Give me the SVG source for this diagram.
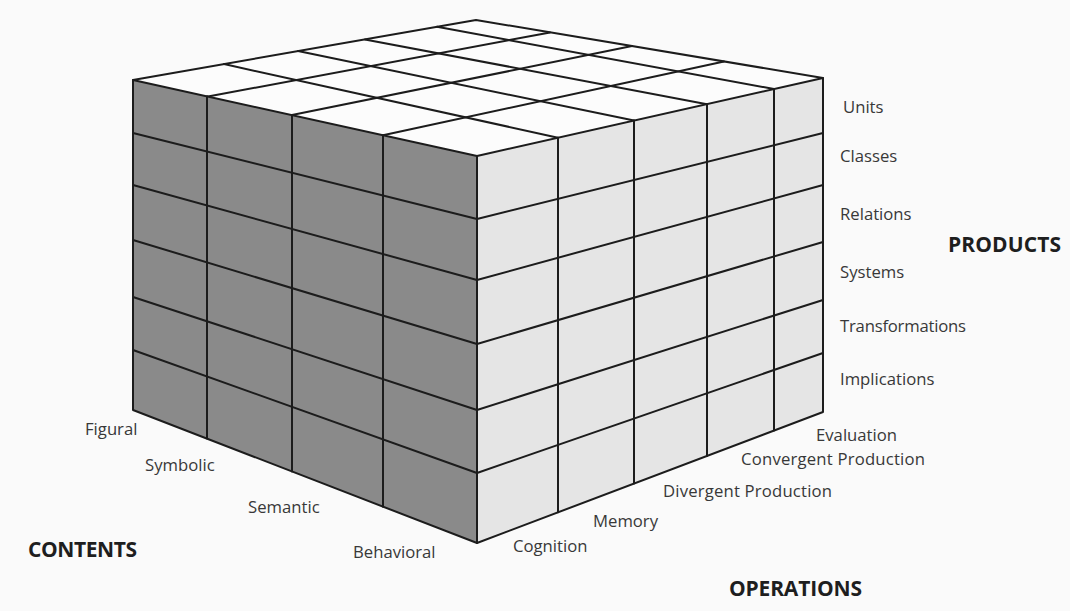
<svg xmlns="http://www.w3.org/2000/svg" width="1070" height="611" viewBox="0 0 1070 611">
  <style>
    .edge { stroke: #1c1c1c; stroke-width: 2; stroke-linejoin: round; stroke-linecap: round; fill: none; }
    .top { fill: #fcfcfc; }
    .left { fill: #8a8a8a; }
    .right { fill: #e5e5e5; }
    .lbl { font-family: "Open Sans", "Liberation Sans", sans-serif; font-size: 16.7px; fill: #383838; }
    .axis { font-family: "Open Sans", "Liberation Sans", sans-serif; font-size: 21px; font-weight: bold; fill: #1e1e1e; }
  </style>

  <rect width="1070" height="611" fill="#fafafa"/>

  <!-- Top face: operations x contents -->
  <g id="face-top">
    <polygon class="top" points="133,80 476,20 823,78 477,156"/>
    <g class="edge">
      <line x1="208" y1="96.6" x2="550" y2="32.4"/>
      <line x1="292" y1="115.1" x2="632" y2="46.1"/>
      <line x1="383" y1="135.2" x2="724" y2="61.5"/>
      <line x1="224" y1="64.1" x2="558" y2="137.7"/>
      <line x1="298" y1="51.1" x2="634" y2="120.6"/>
      <line x1="365" y1="39.4" x2="707" y2="104.2"/>
      <line x1="437" y1="26.8" x2="774" y2="89"/>
    </g>
  </g>

  <!-- Left face: contents x products -->
  <g id="face-contents">
    <polygon class="left" points="133,80 477,156 477,543 133,410"/>
    <g class="edge">
      <line x1="207" y1="96.3" x2="207" y2="438.6"/>
      <line x1="292" y1="115.1" x2="292" y2="471.5"/>
      <line x1="383" y1="135.2" x2="383" y2="506.7"/>
      <line x1="133" y1="133" x2="477" y2="219"/>
      <line x1="133" y1="185" x2="477" y2="280"/>
      <line x1="133" y1="240" x2="477" y2="344"/>
      <line x1="133" y1="297" x2="477" y2="410"/>
      <line x1="133" y1="350" x2="477" y2="473"/>
    </g>
  </g>

  <!-- Right face: operations x products -->
  <g id="face-operations">
    <polygon class="right" points="477,156 823,78 823,412 477,543"/>
    <g class="edge">
      <line x1="558" y1="137.7" x2="558" y2="512.3"/>
      <line x1="634" y1="120.6" x2="634" y2="483.6"/>
      <line x1="707" y1="104.2" x2="707" y2="455.9"/>
      <line x1="774" y1="89" x2="774" y2="430.6"/>
      <line x1="477" y1="219" x2="823" y2="133"/>
      <line x1="477" y1="280" x2="823" y2="185"/>
      <line x1="477" y1="344" x2="823" y2="242"/>
      <line x1="477" y1="410" x2="823" y2="300"/>
      <line x1="477" y1="473" x2="823" y2="353"/>
    </g>
  </g>

  <!-- Cube outline -->
  <g id="outline" class="edge">
    <polygon points="133,80 476,20 823,78 823,412 477,543 133,410"/>
    <polyline points="133,80 477,156 823,78"/>
    <line x1="477" y1="156" x2="477" y2="543"/>
  </g>

  <!-- Products -->
  <g id="products">
    <text class="lbl" x="843" y="113">Units</text>
    <text class="lbl" x="840" y="162">Classes</text>
    <text class="lbl" x="840" y="220">Relations</text>
    <text class="lbl" x="840" y="278">Systems</text>
    <text class="lbl" x="840" y="332" textLength="126">Transformations</text>
    <text class="lbl" x="840" y="385">Implications</text>
    <text class="axis" x="948" y="252" textLength="113">PRODUCTS</text>
  </g>

  <!-- Operations -->
  <g id="operations">
    <text class="lbl" x="816" y="441">Evaluation</text>
    <text class="lbl" x="741" y="465" textLength="184">Convergent Production</text>
    <text class="lbl" x="663" y="497" textLength="169">Divergent Production</text>
    <text class="lbl" x="593" y="527">Memory</text>
    <text class="lbl" x="513" y="552">Cognition</text>
    <text class="axis" x="729" y="596" textLength="133">OPERATIONS</text>
  </g>

  <!-- Contents -->
  <g id="contents">
    <text class="lbl" x="85" y="435">Figural</text>
    <text class="lbl" x="145" y="471">Symbolic</text>
    <text class="lbl" x="248" y="513">Semantic</text>
    <text class="lbl" x="353" y="558">Behavioral</text>
    <text class="axis" x="28" y="557" textLength="109">CONTENTS</text>
  </g>
</svg>
